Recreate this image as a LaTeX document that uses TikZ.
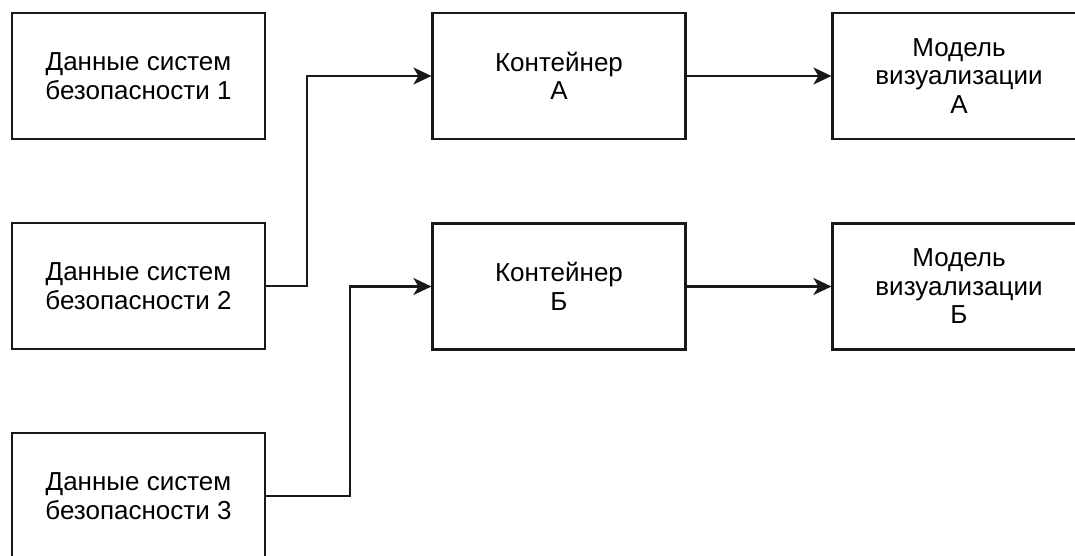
\documentclass[tikz,border=0pt]{standalone}
\usepackage{fontspec}
\setmainfont{Liberation Sans}
\usetikzlibrary{arrows.meta}
\begin{document}
\begin{tikzpicture}[x=1pt,y=1pt,
  box/.style={draw=black!90, line width=2.2pt, rectangle,
    minimum width=253pt, minimum height=126pt, inner sep=0pt,
    align=center, text=black, font=\fontsize{26}{28.5}\selectfont},
  arr/.style={draw=black!90, line width=2.2pt,
    -{Stealth[length=18pt,width=17pt,inset=5pt]}}]
\useasboundingbox (0,0) rectangle (1075,-556);
\clip (0,0) rectangle (1075,-556);
\fill[white] (0,0) rectangle (1075,-556);

% sources
\node[box] (s1) at (138.5,-76) {Данные систем\\безопасности 1};
\node[box] (s2) at (138.5,-286) {Данные систем\\безопасности 2};
\node[box] (s3) at (138.5,-496) {Данные систем\\безопасности 3};

% containers
\node[box] (cA) at (559,-76) {Контейнер\\А};
\node[box] (cB) at (559,-286.5) {Контейнер\\Б};

% visualisation models
\node[box] (mA) at (959,-76) {Модель\\визуализации\\А};
\node[box] (mB) at (959,-286.5) {Модель\\визуализации\\Б};

% connectors
\draw[arr] (s2.east) -- ++(41,0) |- (cA.west);
\draw[arr] (s3.east) -- ++(84,0) |- (cB.west);
\draw[arr] (cA.east) -- (mA.west);
\draw[arr] (cB.east) -- (mB.west);
\end{tikzpicture}
\end{document}
